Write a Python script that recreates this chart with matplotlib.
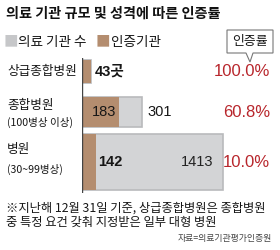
import matplotlib
matplotlib.use("Agg")
import matplotlib.pyplot as plt
from matplotlib import font_manager
from matplotlib.patches import Polygon

# data
categories = ["상급종합병원", "종합병원", "병원"]
sub_labels = ["", "(100병상 이상)", "(30~99병상)"]
total_count = [43, 301, 1413]
certified_count = [43, 183, 142]
cert_rate = [100.0, 60.8, 10.0]
# the 병원 row is drawn at half scale in the original graphic
row_scale = [1.0, 1.0, 0.5]

# layout (pixels of a 280x250 figure)
W, H = 280, 250
row_y = [71.5, 112, 162]
row_h = [23, 30, 56]

GRAY = "#d3d4d6"
GRAY_EDGE = "#b9babc"
BROWN = "#b48d6f"
RED = "#b8262c"
INK = "#161616"

names = {f.name for f in font_manager.fontManager.ttflist}
narrow = "Liberation Sans Narrow" if "Liberation Sans Narrow" in names else "Liberation Sans"
KR = "Noto Sans CJK KR"
NUM = [narrow, KR]


def fx(x):
    return x / W


def fy(y):
    return 1 - y / H


fig = plt.figure(figsize=(2.8, 2.5), dpi=100)
ax = fig.add_axes([fx(82), fy(193), fx(280 - 82), 135 / H])
ax.set_xlim(0, 990)
ax.set_ylim(193, 58)
ax.axis("off")
ax.axvline(0, color="#444444", lw=1.0)

for i in range(len(categories)):
    t = total_count[i] * row_scale[i]
    c = certified_count[i] * row_scale[i]
    ax.barh(row_y[i], t, height=row_h[i], color=GRAY, edgecolor=GRAY_EDGE, lw=1.2)
    ax.barh(row_y[i], c, height=row_h[i], color=BROWN, lw=0)

# value labels
ax.annotate("{}곳".format(certified_count[0]), (certified_count[0] * row_scale[0], row_y[0]),
            xytext=(3, 0), textcoords="offset points", va="center", ha="left",
            fontsize=10.5, fontweight="bold", family=NUM, color=INK)
ax.annotate(str(certified_count[1]), (certified_count[1] * row_scale[1], row_y[1]),
            xytext=(-2, 0), textcoords="offset points", va="center", ha="right",
            fontsize=10.5, family=NUM, color=INK)
ax.annotate(str(total_count[1]), (total_count[1] * row_scale[1], row_y[1]),
            xytext=(4, 0), textcoords="offset points", va="center", ha="left",
            fontsize=10.5, family=NUM, color=INK)
ax.annotate(str(certified_count[2]), (certified_count[2] * row_scale[2], row_y[2]),
            xytext=(1.5, 0), textcoords="offset points", va="center", ha="left",
            fontsize=10.5, fontweight="bold", family=NUM, color=INK)
ax.annotate(str(total_count[2]), (total_count[2] * row_scale[2], row_y[2]),
            xytext=(-7, 0), textcoords="offset points", va="center", ha="right",
            fontsize=10.5, family=NUM, color="#222222")

# rate labels
for i, r in enumerate(cert_rate):
    fig.text(fx(270), fy(row_y[i] + 0.5), "{:.1f}%".format(r), ha="right", va="center",
             fontsize=12, family=NUM, color=RED)

# row labels
fig.text(fx(7), fy(71), categories[0], ha="left", va="center", fontsize=9.1, family=KR, color=INK)
fig.text(fx(7), fy(106), categories[1], ha="left", va="center", fontsize=9.1, family=KR, color=INK)
fig.text(fx(7), fy(122), sub_labels[1], ha="left", va="center", fontsize=7.6, family=KR, color=INK)
fig.text(fx(7), fy(150), categories[2], ha="left", va="center", fontsize=9.1, family=KR, color=INK)
fig.text(fx(7), fy(169), sub_labels[2], ha="left", va="center", fontsize=7.6, family=KR, color=INK)

# title
fig.text(fx(6), fy(14), "의료 기관 규모 및 성격에 따른 인증률", ha="left", va="center",
         fontsize=10.2, fontweight="bold", family=KR, color="#111111")

# legend
fig.text(fx(4), fy(42), "■", ha="left", va="center", fontsize=10.5, family=KR, color="#c6c7c9")
fig.text(fx(18), fy(42), "의료 기관 수", ha="left", va="center", fontsize=9.8, family=KR, color=INK)
fig.text(fx(96), fy(42), "■", ha="left", va="center", fontsize=10.5, family=KR, color=BROWN)
fig.text(fx(111), fy(42), "인증기관", ha="left", va="center", fontsize=9.8, family=KR, color=INK)

# callout box
pts = [(227, 30), (273, 30), (273, 53), (253, 53), (250, 62), (246, 53), (227, 53)]
fig.patches.append(Polygon([(fx(x), fy(y)) for x, y in pts], closed=True, transform=fig.transFigure,
                           facecolor="white", edgecolor="#777777", lw=0.8))
fig.text(fx(250), fy(41.5), "인증률", ha="center", va="center", fontsize=9.3, family=KR, color=INK)

# footnote
fig.text(fx(6), fy(208), "※지난해 12월 31일 기준, 상급종합병원은 종합병원", ha="left", va="center",
         fontsize=8.85, family=KR, color=INK)
fig.text(fx(6), fy(222), "중 특정 요건 갖춰 지정받은 일부 대형 병원", ha="left", va="center",
         fontsize=8.85, family=KR, color=INK)
fig.text(fx(272), fy(238), "자료=의료기관평가인증원", ha="right", va="center",
         fontsize=6.4, family=KR, color="#444444")

fig.savefig("out.png", dpi=100)
